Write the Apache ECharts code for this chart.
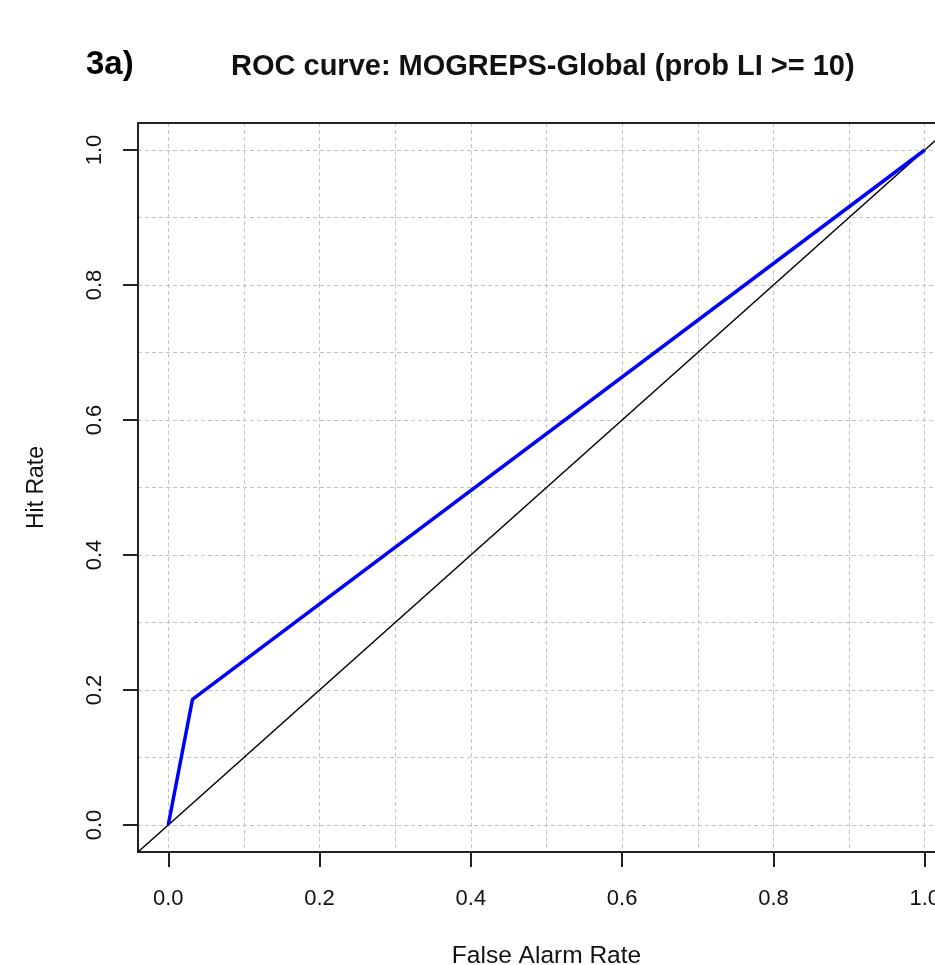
<!DOCTYPE html>
<html>
<head>
<meta charset="utf-8">
<script src="https://cdn.jsdelivr.net/npm/echarts@6/dist/echarts.min.js"></script>
<style>
  html, body { margin: 0; padding: 0; background: #fff; overflow: hidden; }
  #chart { width: 960px; height: 965px; }
</style>
</head>
<body>
<div id="chart"></div>
<script>
// ROC curve points (false alarm rate, hit rate)
var rocPoints = [[0, 0], [0.032, 0.186], [1, 1]]
// no-skill diagonal, drawn across the whole plot box
var diagonal = [[-0.04, -0.04], [1.04, 1.04]]
// labelled ticks and grid line positions
var tickValues = [0, 0.2, 0.4, 0.6, 0.8, 1.0]
var gridValues = [0, 0.1, 0.2, 0.3, 0.4, 0.5, 0.6, 0.7, 0.8, 0.9, 1.0]

var FONT = 'Liberation Sans'
var axisColor = '#222'
var gridStyle = { color: '#c4c4c4', width: 1, type: [4, 3] }

function mainAxis(pos, name, isY) {
  return {
    type: 'value',
    position: pos,
    min: -0.04,
    max: 1.04,
    name: name,
    nameLocation: 'middle',
    nameGap: isY ? 90 : 92,
    nameTextStyle: { fontFamily: FONT, fontSize: isY ? 23 : 24.5, color: '#111' },
    axisLine: { show: true, onZero: false, lineStyle: { color: axisColor, width: 2 } },
    axisTick: { show: true, customValues: tickValues, length: 15, lineStyle: { color: axisColor, width: 2 } },
    axisLabel: {
      customValues: tickValues,
      rotate: isY ? 90 : 0,
      margin: isY ? 32 : 36,
      fontFamily: FONT,
      fontSize: 22,
      color: '#111',
      formatter: function(v) { return v.toFixed(1) }
    },
    splitLine: { show: false }
  }
}

function gridAxis(pos) {
  return {
    type: 'value',
    position: pos,
    min: -0.04,
    max: 1.04,
    axisLine: { show: true, onZero: false, lineStyle: { color: axisColor, width: 2 } },
    axisTick: { show: false, customValues: gridValues },
    axisLabel: { show: false },
    splitLine: { show: true, lineStyle: gridStyle }
  }
}

var chart = echarts.init(document.getElementById('chart'))
chart.setOption({
  animation: false,
  backgroundColor: '#fff',
  title: [
    { text: '3a)', left: 81, top: 43, textStyle: { fontFamily: FONT, fontSize: 33, fontWeight: 'bold', color: '#000' } },
    { text: 'ROC curve: MOGREPS-Global (prob LI >= 10)', left: 226, top: 47, textStyle: { fontFamily: FONT, fontSize: 29, fontWeight: 'bold', color: '#111' } }
  ],
  grid: { left: 138, width: 817, top: 123, height: 729, outerBoundsMode: 'none' },
  xAxis: [mainAxis('bottom', 'False Alarm Rate', false), gridAxis('top')],
  yAxis: [mainAxis('left', 'Hit Rate', true), gridAxis('right')],
  series: [
    {
      type: 'line',
      data: diagonal,
      symbol: 'none',
      lineStyle: { color: '#000', width: 1.5 },
      z: 3
    },
    {
      type: 'line',
      data: rocPoints,
      symbol: 'none',
      lineStyle: { color: '#0000ff', width: 3.5 },
      z: 4
    }
  ]
})
</script>
</body>
</html>
